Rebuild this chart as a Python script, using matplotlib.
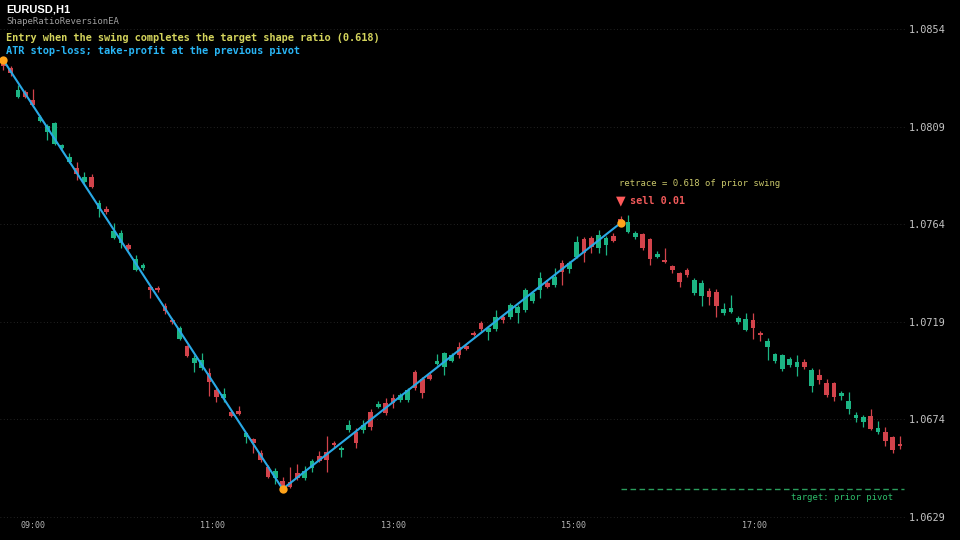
import matplotlib
matplotlib.use("Agg")
import matplotlib.pyplot as plt

# 5-minute style candles
opens = [1.08388, 1.08360, 1.08227, 1.08250, 1.08213, 1.08116, 1.08065, 1.08010, 1.07992, 1.07927,
         1.07899, 1.07835, 1.07858, 1.07710, 1.07710, 1.07576, 1.07553, 1.07544, 1.07429, 1.07438,
         1.07351, 1.07346, 1.07263, 1.07198, 1.07111, 1.07079, 1.07000, 1.06977, 1.06954, 1.06876,
         1.06839, 1.06774, 1.06779, 1.06659, 1.06650, 1.06585, 1.06521, 1.06470, 1.06456, 1.06451,
         1.06493, 1.06470, 1.06516, 1.06571, 1.06590, 1.06631, 1.06599, 1.06691, 1.06682, 1.06691,
         1.06774, 1.06797, 1.06816, 1.06839, 1.06830, 1.06830, 1.06959, 1.06926, 1.06945, 1.06996,
         1.06982, 1.07009, 1.07074, 1.07079, 1.07138, 1.07185, 1.07143, 1.07157, 1.07212, 1.07212,
         1.07231, 1.07245, 1.07286, 1.07337, 1.07369, 1.07360, 1.07461, 1.07434, 1.07489, 1.07572,
         1.07576, 1.07530, 1.07544, 1.07586, 1.07664, 1.07604, 1.07581, 1.07595, 1.07572, 1.07489,
         1.07475, 1.07447, 1.07415, 1.07429, 1.07323, 1.07309, 1.07332, 1.07328, 1.07231, 1.07235,
         1.07189, 1.07152, 1.07198, 1.07138, 1.07074, 1.07009, 1.06972, 1.06991, 1.06982, 1.07005,
         1.06894, 1.06945, 1.06908, 1.06908, 1.06848, 1.06788, 1.06747, 1.06728, 1.06756, 1.06682,
         1.06682, 1.06659, 1.06627]
highs = [1.08402, 1.08370, 1.08282, 1.08259, 1.08264, 1.08144, 1.08102, 1.08111, 1.08010, 1.07968,
         1.07927, 1.07881, 1.07872, 1.07752, 1.07724, 1.07646, 1.07613, 1.07553, 1.07498, 1.07461,
         1.07355, 1.07355, 1.07277, 1.07208, 1.07171, 1.07083, 1.07037, 1.07046, 1.06977, 1.06885,
         1.06885, 1.06783, 1.06802, 1.06682, 1.06654, 1.06599, 1.06530, 1.06516, 1.06474, 1.06521,
         1.06534, 1.06525, 1.06558, 1.06594, 1.06664, 1.06640, 1.06617, 1.06737, 1.06700, 1.06737,
         1.06788, 1.06825, 1.06839, 1.06857, 1.06862, 1.06885, 1.06968, 1.06936, 1.06954, 1.07042,
         1.07051, 1.07046, 1.07097, 1.07083, 1.07148, 1.07194, 1.07171, 1.07245, 1.07226, 1.07277,
         1.07268, 1.07346, 1.07328, 1.07420, 1.07383, 1.07438, 1.07475, 1.07470, 1.07586, 1.07581,
         1.07586, 1.07613, 1.07586, 1.07600, 1.07678, 1.07683, 1.07609, 1.07600, 1.07576, 1.07517,
         1.07530, 1.07452, 1.07420, 1.07438, 1.07392, 1.07383, 1.07346, 1.07341, 1.07277, 1.07314,
         1.07217, 1.07231, 1.07231, 1.07148, 1.07115, 1.07046, 1.07042, 1.07028, 1.07037, 1.07019,
         1.06977, 1.06972, 1.06926, 1.06913, 1.06871, 1.06866, 1.06774, 1.06760, 1.06788, 1.06733,
         1.06705, 1.06664, 1.06664]
lows = [1.08351, 1.08323, 1.08222, 1.08222, 1.08181, 1.08111, 1.08028, 1.08005, 1.07987, 1.07922,
        1.07844, 1.07830, 1.07807, 1.07673, 1.07687, 1.07572, 1.07530, 1.07521, 1.07424, 1.07429,
        1.07300, 1.07328, 1.07226, 1.07180, 1.07106, 1.07028, 1.06959, 1.06968, 1.06848, 1.06820,
        1.06820, 1.06751, 1.06760, 1.06631, 1.06585, 1.06544, 1.06470, 1.06442, 1.06419, 1.06424,
        1.06461, 1.06461, 1.06498, 1.06544, 1.06498, 1.06613, 1.06567, 1.06682, 1.06608, 1.06677,
        1.06691, 1.06793, 1.06760, 1.06793, 1.06820, 1.06820, 1.06876, 1.06839, 1.06922, 1.06991,
        1.06945, 1.07005, 1.07023, 1.07060, 1.07125, 1.07148, 1.07106, 1.07148, 1.07185, 1.07203,
        1.07185, 1.07235, 1.07277, 1.07300, 1.07346, 1.07351, 1.07360, 1.07415, 1.07484, 1.07466,
        1.07507, 1.07507, 1.07498, 1.07558, 1.07636, 1.07600, 1.07572, 1.07521, 1.07452, 1.07484,
        1.07461, 1.07415, 1.07351, 1.07397, 1.07314, 1.07263, 1.07268, 1.07212, 1.07221, 1.07231,
        1.07180, 1.07148, 1.07111, 1.07102, 1.07014, 1.07000, 1.06963, 1.06982, 1.06940, 1.06972,
        1.06866, 1.06903, 1.06843, 1.06825, 1.06830, 1.06765, 1.06728, 1.06705, 1.06691, 1.06673,
        1.06617, 1.06585, 1.06604]
closes = [1.08370, 1.08337, 1.08259, 1.08227, 1.08190, 1.08134, 1.08093, 1.08107, 1.08005, 1.07950,
          1.07872, 1.07858, 1.07812, 1.07738, 1.07696, 1.07609, 1.07600, 1.07526, 1.07480, 1.07452,
          1.07337, 1.07337, 1.07240, 1.07189, 1.07161, 1.07032, 1.07023, 1.07014, 1.06913, 1.06843,
          1.06857, 1.06756, 1.06765, 1.06677, 1.06631, 1.06553, 1.06474, 1.06502, 1.06433, 1.06428,
          1.06470, 1.06502, 1.06548, 1.06548, 1.06553, 1.06622, 1.06608, 1.06714, 1.06631, 1.06714,
          1.06705, 1.06811, 1.06770, 1.06816, 1.06853, 1.06876, 1.06885, 1.06862, 1.06926, 1.07009,
          1.07046, 1.07037, 1.07037, 1.07065, 1.07129, 1.07157, 1.07161, 1.07212, 1.07198, 1.07268,
          1.07258, 1.07337, 1.07323, 1.07392, 1.07351, 1.07397, 1.07420, 1.07461, 1.07558, 1.07507,
          1.07535, 1.07590, 1.07576, 1.07563, 1.07646, 1.07650, 1.07600, 1.07530, 1.07480, 1.07503,
          1.07466, 1.07429, 1.07374, 1.07406, 1.07383, 1.07369, 1.07304, 1.07263, 1.07249, 1.07254,
          1.07208, 1.07203, 1.07161, 1.07129, 1.07102, 1.07042, 1.07037, 1.07019, 1.07005, 1.06982,
          1.06968, 1.06922, 1.06853, 1.06843, 1.06862, 1.06825, 1.06760, 1.06751, 1.06696, 1.06700,
          1.06640, 1.06599, 1.06617]

# zigzag pivots (bar index, price)
pivot_idx = [0, 38, 84]
pivot_px = [1.08397, 1.06419, 1.07646]
target_px = 1.06419

price_ticks = [1.0629, 1.0674, 1.0719, 1.0764, 1.0809, 1.0854]
time_labels = ["09:00", "11:00", "13:00", "15:00", "17:00"]
time_pos = [4.0, 28.5, 53.1, 77.6, 102.2]

UP = '#1cb584'
DN = '#d2434b'
MONO = 'DejaVu Sans Mono'

fig = plt.figure(figsize=(9.6, 5.4), dpi=100, facecolor='black')
ax = fig.add_axes([0, 0, 905 / 960, 1])
ax.set_facecolor('black')

n = len(opens)
xs = list(range(n))
cols = [UP if c >= o else DN for o, c in zip(opens, closes)]
ax.vlines(xs, lows, highs, colors=cols, linewidth=0.9, zorder=2)
bottoms = [min(o, c) for o, c in zip(opens, closes)]
heights = [max(abs(c - o), 0.00003) for o, c in zip(opens, closes)]
ax.bar(xs, heights, bottom=bottoms, width=0.64, color=cols, linewidth=0, zorder=3)

# zigzag + pivot dots
ax.plot(pivot_idx, pivot_px, color='#29a9e6', linewidth=1.5, zorder=4)
ax.plot(pivot_idx, pivot_px, 'o', color='#ffa31a', markersize=6, markeredgewidth=0, zorder=5)

# target line at previous pivot
ax.hlines(target_px, 84, 122.6, colors='#2a9d5c', linestyles=(0, (4, 2.5)), linewidth=1, zorder=2)
ax.annotate('target: prior pivot', xy=(121.0, target_px), xytext=(0, -6), textcoords='offset points',
            ha='right', va='center', color='#2ebd6b', fontsize=6.4, family=MONO)

# sell marker
ax.annotate('\u25bc', xy=(84, pivot_px[2]), xytext=(0, 15.8), textcoords='offset points',
            ha='center', va='center', color='#ff5a5a', fontsize=9)
ax.annotate('sell 0.01', xy=(84, pivot_px[2]), xytext=(6.5, 15.8), textcoords='offset points',
            ha='left', va='center', color='#f25a5a', fontsize=7.3, family=MONO, fontweight='bold')
ax.annotate('retrace = 0.618 of prior swing', xy=(84, pivot_px[2]), xytext=(-1.4, 28.5),
            textcoords='offset points', ha='left', va='center', color='#c9c76a', fontsize=6.4, family=MONO)

ax.set_xlim(-0.45, 122.68)
ax.set_ylim(1.06184, 1.086739)
ax.set_yticks(price_ticks)
ax.set_yticklabels(['%.4f' % p for p in price_ticks])
ax.yaxis.tick_right()
ax.tick_params(axis='y', length=0, pad=3, labelsize=7.4, labelcolor='#c4c4c4')
for lab in ax.get_yticklabels():
    lab.set_family(MONO)
ax.set_xticks([])
ax.grid(axis='y', color='#2e2e2e', linestyle=(0, (1, 3)), linewidth=0.6)
for s in ax.spines.values():
    s.set_visible(False)

for pos, lab in zip(time_pos, time_labels):
    ax.text(pos, 1 - 525 / 540, lab, transform=ax.get_xaxis_transform(), ha='center', va='center',
            color='#b4b4b4', fontsize=6, family=MONO)

# header
fig.text(6 / 960, 1 - 9 / 540, 'EURUSD,H1', color='white', fontsize=8, fontweight='bold',
         family='Liberation Sans', va='center')
fig.text(6 / 960, 1 - 22 / 540, 'ShapeRatioReversionEA', color='#9c9c9c', fontsize=6.5,
         family=MONO, va='center')
fig.text(6 / 960, 1 - 38 / 540, 'Entry when the swing completes the target shape ratio (0.618)',
         color='#d4d45c', fontsize=7.4, family=MONO, fontweight='bold', va='center')
fig.text(6 / 960, 1 - 51 / 540, 'ATR stop-loss; take-profit at the previous pivot',
         color='#29b6f6', fontsize=7.4, family=MONO, fontweight='bold', va='center')

fig.savefig('out.png', dpi=100, facecolor='black')
